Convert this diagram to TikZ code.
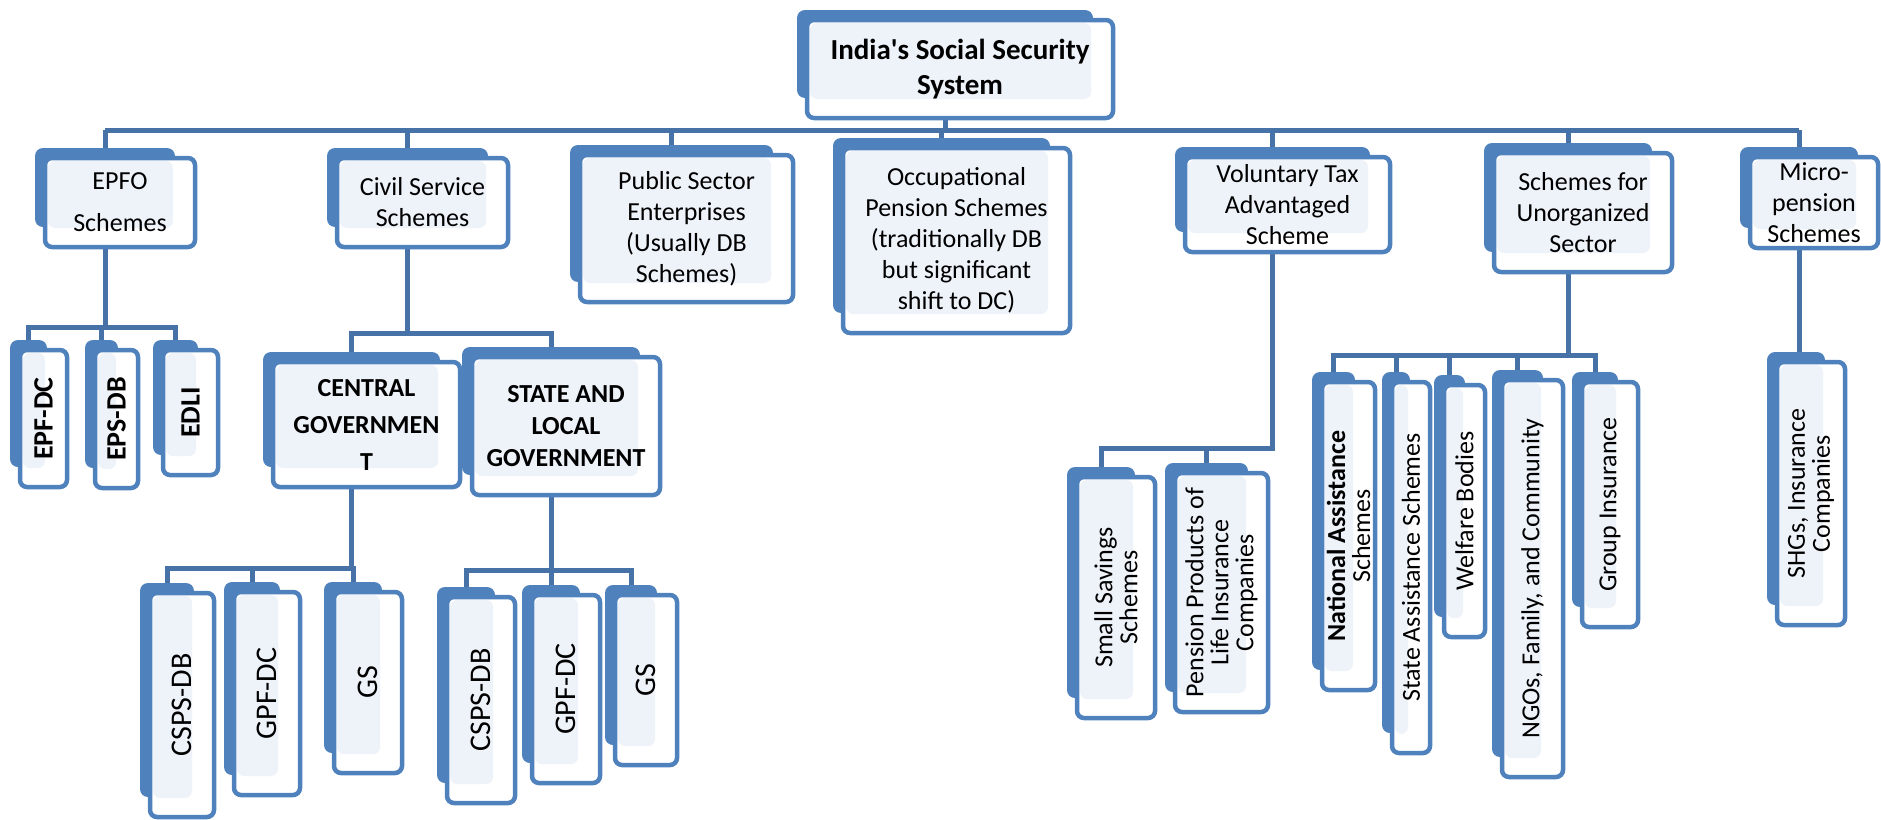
\documentclass[tikz,border=0pt]{standalone}
\usepackage{fontspec}
\setmainfont{Carlito}[Ligatures=TeXOff]
\usetikzlibrary{backgrounds}
\definecolor{boxblue}{HTML}{4F81BD}
\definecolor{connblue}{HTML}{4672A8}
\definecolor{lightfill}{HTML}{EEF2F9}
\tikzset{
  frontbox/.style={draw=boxblue, line width=4.5pt, fill=white, rounded corners=7pt, inner sep=0pt, outer sep=0pt,
    path picture={\fill[lightfill] ([xshift=3pt,yshift=-3pt]path picture bounding box.north west) rectangle ([xshift=-22pt,yshift=19pt]path picture bounding box.south east);}},
  txt/.style={inner sep=0pt, align=center, text=black, font=\fontsize{26}{31}\selectfont},
  rot/.style={rotate=90},
  conn/.style={draw=connblue, line width=5pt},
}
% #1 text options, #2 name, #3-#6 front box x1,y1,x2,y2, #7 text
\newcommand\dbx[7]{%
  \fill[boxblue, rounded corners=8pt] (#3-10,#4-10) rectangle (#5-20,#6-20);
  \node[frontbox, minimum width={(#5-#3)*1pt}, minimum height={(#6-#4)*1pt}] (#2) at ({(#3+#5)/2},{(#4+#6)/2}) {};
  \node[txt,#1] (#2-t) at (#2.center) {#7};
  \coordinate (#2-c) at ({(#3+#5)/2-15},{(#4+#6)/2});
}
\begin{document}
\begin{tikzpicture}[x=1pt,y=-1pt]
\useasboundingbox (0,0) rectangle (1881,819);
% top level
\dbx{font=\fontsize{29}{35}\selectfont\bfseries}{root}{807}{20}{1113}{118}{India's Social Security\\System}
\dbx{}{epfo}{45}{158}{195}{247}{EPFO\\[11pt]Schemes}
\dbx{}{civil}{337}{158}{508}{247}{Civil Service\\Schemes}
\dbx{}{public}{580}{155}{793}{302}{Public Sector\\Enterprises\\(Usually DB\\Schemes)}
\dbx{}{occ}{843}{148}{1070}{333}{Occupational\\Pension Schemes\\(traditionally DB\\but significant\\shift to DC)}
\dbx{}{vol}{1185}{157}{1390}{252}{Voluntary Tax\\Advantaged\\Scheme}
\dbx{}{unorg}{1494}{153}{1672}{272}{Schemes for\\Unorganized\\Sector}
\dbx{}{micro}{1750}{157}{1878}{248}{Micro-\\pension\\Schemes}
% EPFO children
\dbx{rot,font=\fontsize{28}{30}\selectfont\bfseries}{epfdc}{20}{350}{67}{487}{EPF-DC}
\dbx{rot,font=\fontsize{28}{30}\selectfont\bfseries}{epsdb}{95}{350}{138}{488}{EPS-DB}
\dbx{rot,font=\fontsize{28}{30}\selectfont\bfseries}{edli}{163}{350}{218}{475}{EDLI}
% Civil service children
\dbx{font=\fontsize{26}{37}\selectfont\bfseries}{central}{273}{362}{460}{487}{CENTRAL\\GOVERNMEN\\T}
\dbx{font=\fontsize{26}{32}\selectfont\bfseries}{state}{472}{357}{660}{495}{STATE AND\\LOCAL\\GOVERNMENT}
\dbx{rot,font=\fontsize{30}{30}\selectfont}{cspsA}{150}{593}{214}{817}{CSPS-DB}
\dbx{rot,font=\fontsize{30}{30}\selectfont}{gpfA}{234}{592}{300}{795}{GPF-DC}
\dbx{rot,font=\fontsize{30}{30}\selectfont}{gsA}{334}{592}{402}{773}{GS}
\dbx{rot,font=\fontsize{30}{30}\selectfont}{cspsB}{447}{597}{515}{803}{CSPS-DB}
\dbx{rot,font=\fontsize{30}{30}\selectfont}{gpfB}{532}{595}{600}{783}{GPF-DC}
\dbx{rot,font=\fontsize{30}{30}\selectfont}{gsB}{615}{595}{677}{765}{GS}
% Voluntary children
\dbx{rot,font=\fontsize{26}{25}\selectfont}{small}{1077}{477}{1155}{718}{Small Savings\\Schemes}
\dbx{rot,font=\fontsize{26}{25}\selectfont}{pension}{1175}{473}{1268}{712}{Pension Products of\\Life Insurance\\Companies}
% Unorganized children
\dbx{rot,font=\fontsize{26}{25}\selectfont}{national}{1322}{382}{1375}{690}{\textbf{National Assistance}\\Schemes}
\dbx{rot}{stateass}{1392}{382}{1430}{753}{State Assistance Schemes}
\dbx{rot}{welfare}{1444}{385}{1485}{637}{Welfare Bodies}
\dbx{rot}{ngos}{1502}{380}{1563}{777}{NGOs, Family, and Community}
\dbx{rot}{group}{1582}{382}{1638}{627}{Group Insurance}
% Micro child
\dbx{rot,font=\fontsize{26}{25}\selectfont}{shgs}{1777}{362}{1845}{625}{SHGs, Insurance\\Companies}
% connectors
\begin{pgfonlayer}{background}
\coordinate (yTop) at (0,130);
\coordinate (yEpfo) at (0,327);
\coordinate (yCivil) at (0,333);
\coordinate (yCentral) at (0,568);
\coordinate (yState) at (0,570);
\coordinate (yVol) at (0,448);
\coordinate (yUnorg) at (0,355);
\draw[conn] (epfo-c |- yTop) -- (micro-c |- yTop);
\draw[conn] (root-c |- root.south) -- (root-c |- yTop);
\foreach \k in {epfo,civil,public,occ,vol,unorg,micro}
  \draw[conn] (\k-c |- yTop) -- (\k-c |- \k.north);
\foreach \k in {epfdc,epsdb,edli}
  \draw[conn] (epfo-c |- epfo.south) |- (\k-c |- yEpfo) -- (\k-c |- \k.north);
\foreach \k in {central,state}
  \draw[conn] (civil-c |- civil.south) |- (\k-c |- yCivil) -- (\k-c |- \k.north);
\foreach \k in {cspsA,gpfA,gsA}
  \draw[conn] (central-c |- central.south) |- (\k-c |- yCentral) -- (\k-c |- \k.north);
\foreach \k in {cspsB,gpfB,gsB}
  \draw[conn] (state-c |- state.south) |- (\k-c |- yState) -- (\k-c |- \k.north);
\foreach \k in {small,pension}
  \draw[conn] (vol-c |- vol.south) |- (\k-c |- yVol) -- (\k-c |- \k.north);
\foreach \k in {national,stateass,welfare,ngos,group}
  \draw[conn] (unorg-c |- unorg.south) |- (\k-c |- yUnorg) -- (\k-c |- \k.north);
\draw[conn] (micro-c |- micro.south) -- (micro-c |- shgs.north);
\end{pgfonlayer}
\end{tikzpicture}
\end{document}
